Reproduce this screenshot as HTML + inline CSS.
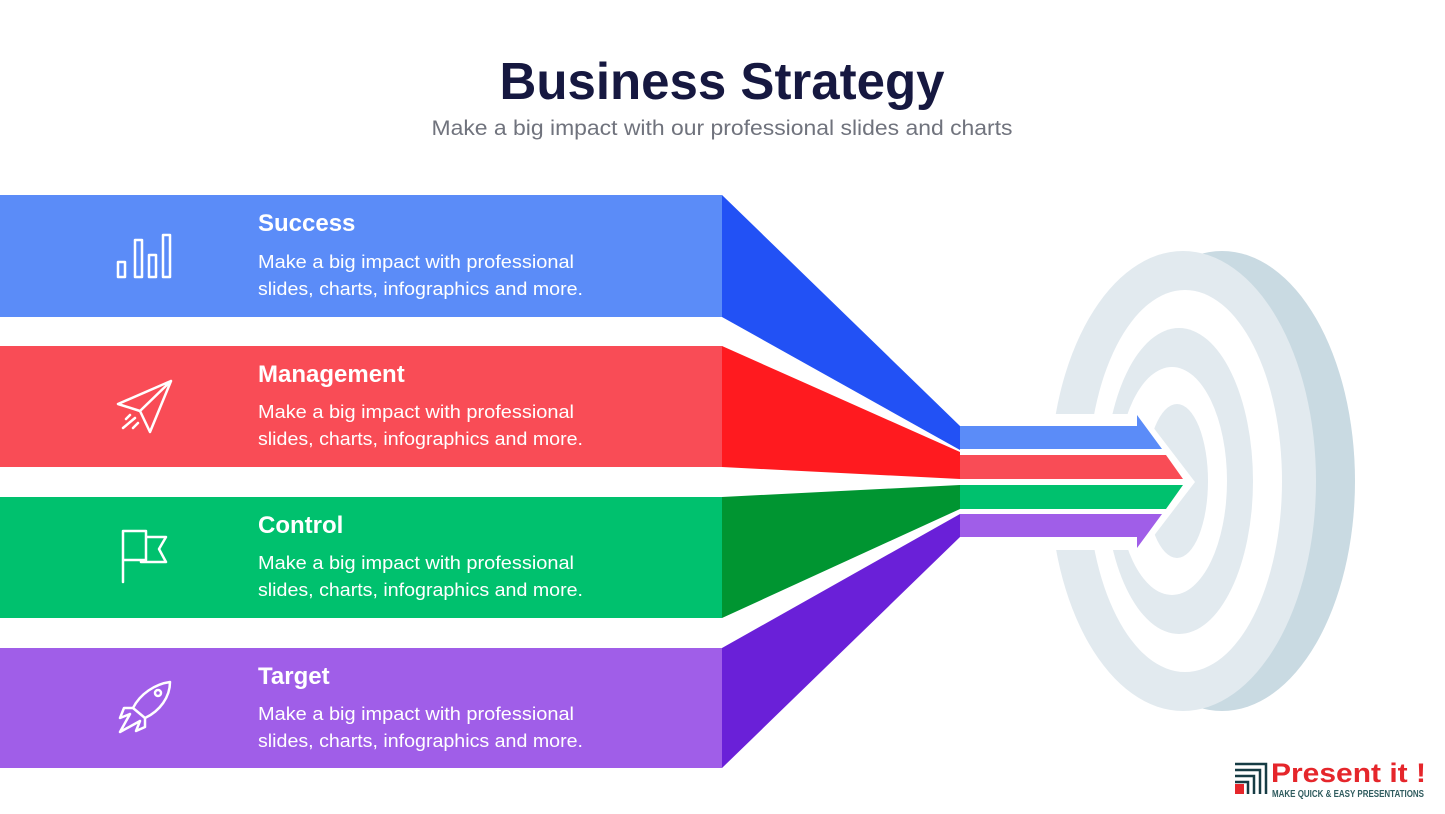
<!DOCTYPE html>
<html><head><meta charset="utf-8"><style>
html,body{margin:0;padding:0;background:#fff;}
svg{display:block;}
</style></head><body>
<svg width="1445" height="814" viewBox="0 0 1445 814" xmlns="http://www.w3.org/2000/svg" font-family="Liberation Sans, sans-serif">
<rect width="1445" height="814" fill="#fff"/>
<text x="722" y="99" text-anchor="middle" font-size="52" font-weight="bold" fill="#161840" textLength="445" lengthAdjust="spacingAndGlyphs">Business Strategy</text>
<text x="722" y="135" text-anchor="middle" font-size="21" fill="#70737d" textLength="581" lengthAdjust="spacingAndGlyphs">Make a big impact with our professional slides and charts</text>

<!-- target -->
<ellipse cx="1222" cy="481" rx="133" ry="230" fill="#c9dae2"/>
<ellipse cx="1183" cy="481" rx="133" ry="230" fill="#e2eaef"/>
<ellipse cx="1185" cy="481" rx="97" ry="191" fill="#fff"/>
<ellipse cx="1179" cy="481" rx="74" ry="153" fill="#e2eaef"/>
<ellipse cx="1172" cy="481" rx="55" ry="114" fill="#fff"/>
<ellipse cx="1177" cy="481" rx="31" ry="77" fill="#e2eaef"/>
<polygon points="1040,414 1143,414 1195,482 1143,550 1040,550" fill="#fff"/>

<!-- bands -->
<rect x="0" y="195" width="722" height="122" fill="#5b8cf8"/>
<rect x="0" y="346" width="722" height="121" fill="#f94c56"/>
<rect x="0" y="497" width="722" height="121" fill="#00c16e"/>
<rect x="0" y="648" width="722" height="120" fill="#a05ee8"/>
<!-- funnels -->
<polygon points="722,195 960,426 960,450 722,317" fill="#2251f5"/>
<polygon points="722,346 960,452 960,479 722,467" fill="#ff1a1f"/>
<polygon points="722,497 960,485 960,509 722,618" fill="#009531"/>
<polygon points="722,648 960,514 960,537 722,768" fill="#6a20d8"/>
<!-- arrows -->
<polygon points="960,426 1137,426 1137,415 1162,449 960,449" fill="#5b8cf8"/>
<polygon points="960,455 1166,455 1183,479 960,479" fill="#f94c56"/>
<polygon points="960,485 1183,485 1166,509 960,509" fill="#00c16e"/>
<polygon points="960,514 1162,514 1137,548 1137,537 960,537" fill="#a05ee8"/>

<!-- icons -->
<g fill="none" stroke="#fff" stroke-width="2.5" stroke-linejoin="round" stroke-linecap="round">
<rect x="118" y="262" width="7" height="15"/>
<rect x="135" y="240" width="7" height="37"/>
<rect x="149" y="255" width="7" height="22"/>
<rect x="163" y="235" width="7" height="42"/>
<!-- plane -->
<path d="M171,381 L118,404 L140,411 L150,432 Z M140,411 L171,381"/>
<path d="M130,415 L126,419 M135,418 L123,428 M138,423 L133,428"/>
<!-- flag -->
<path d="M123,582 L123,531 L146,531 L146,560 L123,560 M146,537 L166,537 L159,549 L166,562 L141,562 L141,560"/>
<!-- rocket -->
<path d="M170,682 C155,684 140,694 133,708 L145,718 C160,711 170,697 170,682 Z"/>
<circle cx="158" cy="693" r="3"/>
<path d="M133,708 L124,708 L120,718 L130,714 M145,718 L145,727 L136,731 L140,721 M130,714 L120,732 L140,721"/>
</g>

<!-- texts -->
<g fill="#fff">
<text x="258" y="231" font-size="24" font-weight="bold">Success</text>
<text x="258" y="268" font-size="18" textLength="316" lengthAdjust="spacingAndGlyphs">Make a big impact with professional</text>
<text x="258" y="295" font-size="18" textLength="325" lengthAdjust="spacingAndGlyphs">slides, charts, infographics and more.</text>
<text x="258" y="382" font-size="24" font-weight="bold">Management</text>
<text x="258" y="418" font-size="18" textLength="316" lengthAdjust="spacingAndGlyphs">Make a big impact with professional</text>
<text x="258" y="445" font-size="18" textLength="325" lengthAdjust="spacingAndGlyphs">slides, charts, infographics and more.</text>
<text x="258" y="533" font-size="24" font-weight="bold">Control</text>
<text x="258" y="569" font-size="18" textLength="316" lengthAdjust="spacingAndGlyphs">Make a big impact with professional</text>
<text x="258" y="596" font-size="18" textLength="325" lengthAdjust="spacingAndGlyphs">slides, charts, infographics and more.</text>
<text x="258" y="684" font-size="24" font-weight="bold">Target</text>
<text x="258" y="720" font-size="18" textLength="316" lengthAdjust="spacingAndGlyphs">Make a big impact with professional</text>
<text x="258" y="747" font-size="18" textLength="325" lengthAdjust="spacingAndGlyphs">slides, charts, infographics and more.</text>
</g>

<!-- logo -->
<g fill="none" stroke="#163c44" stroke-width="2.5">
<path d="M1235,764 L1266,764 L1266,794"/>
<path d="M1235,770 L1260,770 L1260,794"/>
<path d="M1235,776 L1254,776 L1254,794"/>
<path d="M1235,782 L1248,782 L1248,794"/>
</g>
<rect x="1235" y="784" width="9" height="10" fill="#e5262b"/>
<text x="1271" y="782" font-size="27" font-weight="bold" fill="#e5262b" textLength="155" lengthAdjust="spacingAndGlyphs">Present it !</text>
<text x="1272" y="797" font-size="10" font-weight="bold" fill="#2f5b5e" textLength="152" lengthAdjust="spacingAndGlyphs">MAKE QUICK &amp; EASY PRESENTATIONS</text>
</svg>
</body></html>
